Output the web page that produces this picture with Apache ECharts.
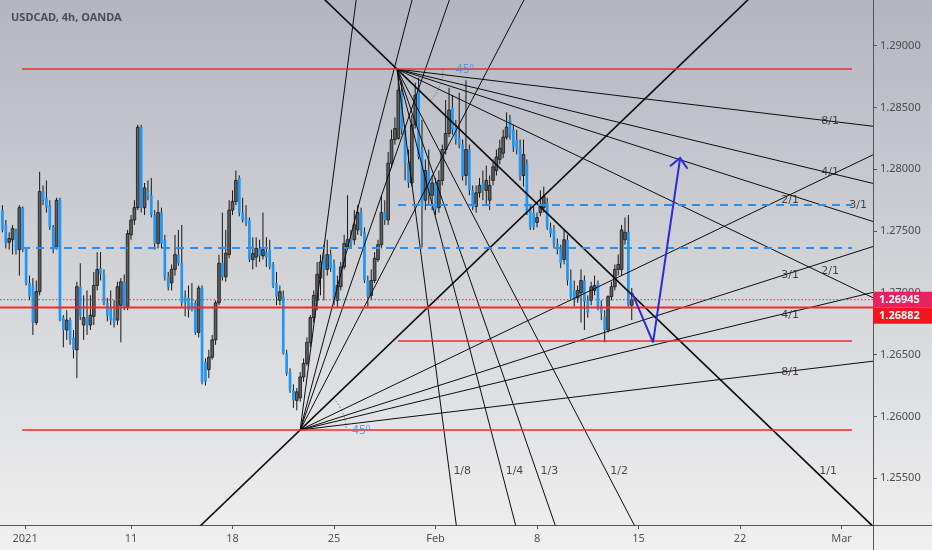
<!DOCTYPE html>
<html><head><meta charset="utf-8">
<script src="https://cdn.jsdelivr.net/npm/echarts@6/dist/echarts.min.js"></script>
<style>html,body{margin:0;padding:0;background:#eee}#c{width:932px;height:550px}</style>
</head><body><div id="c"></div>
<script>
// ---------- DATA ----------
const chartTitle = 'USDCAD, 4h, OANDA';
const firstBar = -8;            // bar index of first candle (4h bars, Mon Jan 4 00:00 = 0)
const candles = [ // [open, close, low, high]
[1.2767,1.2751,1.2749,1.2771],[1.2755,1.2740,1.2736,1.2759],[1.2741,1.2744,1.2735,1.2749],[1.2743,1.2752,1.2731,1.2755],
[1.2749,1.2735,1.2731,1.2752],[1.2735,1.2769,1.2714,1.2771],[1.2769,1.2735,1.2733,1.2770],[1.2735,1.2708,1.2706,1.2736],
[1.2708,1.2697,1.2694,1.2714],[1.2706,1.2676,1.2666,1.2712],[1.2676,1.2701,1.2674,1.2710],[1.2701,1.2782,1.2698,1.2798],
[1.2782,1.2775,1.2771,1.2787],[1.2777,1.2769,1.2765,1.2791],[1.2771,1.2753,1.2751,1.2775],[1.2753,1.2735,1.2732,1.2755],
[1.2737,1.2775,1.2735,1.2777],[1.2775,1.2678,1.2677,1.2777],[1.2680,1.2670,1.2656,1.2682],[1.2670,1.2678,1.2662,1.2686],
[1.2678,1.2662,1.2658,1.2680],[1.2664,1.2654,1.2647,1.2670],[1.2654,1.2705,1.2631,1.2709],[1.2705,1.2681,1.2678,1.2724],
[1.2674,1.2680,1.2662,1.2698],[1.2680,1.2674,1.2666,1.2702],[1.2674,1.2682,1.2670,1.2698],[1.2681,1.2706,1.2674,1.2717],
[1.2706,1.2719,1.2702,1.2733],[1.2720,1.2715,1.2710,1.2733],[1.2715,1.2692,1.2690,1.2719],[1.2692,1.2681,1.2677,1.2696],
[1.2688,1.2678,1.2674,1.2702],[1.2680,1.2676,1.2672,1.2694],[1.2678,1.2705,1.2674,1.2709],[1.2690,1.2709,1.2660,1.2712],
[1.2709,1.2689,1.2686,1.2715],[1.2689,1.2748,1.2686,1.2751],[1.2747,1.2759,1.2743,1.2763],[1.2759,1.2769,1.2755,1.2775],
[1.2769,1.2834,1.2767,1.2836],[1.2834,1.2769,1.2765,1.2836],[1.2769,1.2785,1.2763,1.2789],[1.2783,1.2778,1.2775,1.2791],
[1.2779,1.2763,1.2761,1.2793],[1.2763,1.2740,1.2735,1.2767],[1.2740,1.2765,1.2736,1.2775],[1.2765,1.2740,1.2736,1.2769],
[1.2743,1.2713,1.2710,1.2747],[1.2713,1.2705,1.2702,1.2717],[1.2708,1.2719,1.2702,1.2723],[1.2719,1.2731,1.2714,1.2747],
[1.2731,1.2724,1.2722,1.2751],[1.2724,1.2692,1.2689,1.2755],[1.2697,1.2692,1.2681,1.2702],[1.2696,1.2686,1.2680,1.2706],
[1.2692,1.2686,1.2685,1.2708],[1.2692,1.2668,1.2666,1.2694],[1.2668,1.2704,1.2664,1.2706],[1.2704,1.2628,1.2626,1.2706],
[1.2644,1.2628,1.2625,1.2647],[1.2638,1.2648,1.2631,1.2654],[1.2648,1.2662,1.2646,1.2666],[1.2662,1.2692,1.2658,1.2694],
[1.2692,1.2724,1.2690,1.2731],[1.2724,1.2713,1.2710,1.2765],[1.2713,1.2732,1.2709,1.2751],[1.2731,1.2767,1.2728,1.2775],
[1.2767,1.2774,1.2763,1.2783],[1.2774,1.2791,1.2771,1.2799],[1.2793,1.2765,1.2762,1.2795],[1.2765,1.2759,1.2757,1.2777],
[1.2761,1.2757,1.2754,1.2771],[1.2759,1.2727,1.2725,1.2761],[1.2727,1.2732,1.2719,1.2745],[1.2729,1.2736,1.2721,1.2745],
[1.2736,1.2730,1.2725,1.2743],[1.2730,1.2735,1.2727,1.2765],[1.2733,1.2729,1.2721,1.2745],[1.2735,1.2721,1.2719,1.2743],
[1.2723,1.2706,1.2704,1.2725],[1.2708,1.2697,1.2690,1.2717],[1.2694,1.2701,1.2690,1.2706],[1.2697,1.2651,1.2650,1.2702],
[1.2651,1.2635,1.2633,1.2654],[1.2636,1.2621,1.2619,1.2639],[1.2621,1.2613,1.2607,1.2626],[1.2613,1.2620,1.2605,1.2623],
[1.2615,1.2632,1.2612,1.2636],[1.2632,1.2643,1.2628,1.2647],[1.2643,1.2660,1.2641,1.2664],[1.2660,1.2680,1.2656,1.2682],
[1.2680,1.2698,1.2676,1.2702],[1.2694,1.2715,1.2686,1.2725],[1.2712,1.2725,1.2698,1.2731],[1.2728,1.2719,1.2694,1.2739],
[1.2719,1.2731,1.2714,1.2743],[1.2731,1.2720,1.2717,1.2735],[1.2723,1.2694,1.2690,1.2727],[1.2694,1.2706,1.2688,1.2714],
[1.2705,1.2721,1.2702,1.2725],[1.2721,1.2740,1.2719,1.2747],[1.2737,1.2743,1.2735,1.2779],[1.2744,1.2740,1.2736,1.2751],
[1.2743,1.2755,1.2739,1.2767],[1.2751,1.2765,1.2747,1.2771],[1.2765,1.2749,1.2746,1.2769],[1.2749,1.2710,1.2708,1.2753],
[1.2710,1.2697,1.2689,1.2714],[1.2698,1.2710,1.2694,1.2719],[1.2710,1.2728,1.2708,1.2733],[1.2727,1.2739,1.2725,1.2743],
[1.2739,1.2765,1.2736,1.2779],[1.2765,1.2759,1.2755,1.2775],[1.2759,1.2805,1.2755,1.2814],[1.2805,1.2824,1.2801,1.2832],
[1.2824,1.2833,1.2820,1.2842],[1.2825,1.2864,1.2824,1.2881],[1.2863,1.2832,1.2828,1.2872],[1.2832,1.2805,1.2791,1.2836],
[1.2805,1.2789,1.2785,1.2816],[1.2789,1.2836,1.2786,1.2844],[1.2836,1.2860,1.2833,1.2870],[1.2866,1.2810,1.2808,1.2874],
[1.2816,1.2770,1.2737,1.2840],[1.2775,1.2799,1.2767,1.2808],[1.2799,1.2779,1.2771,1.2816],[1.2779,1.2789,1.2767,1.2795],
[1.2789,1.2767,1.2763,1.2793],[1.2769,1.2791,1.2765,1.2799],[1.2791,1.2816,1.2787,1.2820],[1.2816,1.2829,1.2812,1.2856],
[1.2829,1.2848,1.2826,1.2866],[1.2850,1.2832,1.2828,1.2860],[1.2834,1.2824,1.2820,1.2840],[1.2825,1.2820,1.2817,1.2862],
[1.2820,1.2794,1.2791,1.2824],[1.2795,1.2816,1.2787,1.2872],[1.2816,1.2783,1.2779,1.2820],[1.2783,1.2770,1.2767,1.2787],
[1.2770,1.2781,1.2765,1.2787],[1.2781,1.2787,1.2777,1.2793],[1.2789,1.2783,1.2775,1.2799],[1.2783,1.2791,1.2771,1.2803],
[1.2775,1.2787,1.2767,1.2795],[1.2791,1.2802,1.2787,1.2808],[1.2799,1.2810,1.2795,1.2816],[1.2808,1.2817,1.2804,1.2824],
[1.2813,1.2826,1.2809,1.2832],[1.2826,1.2834,1.2824,1.2846],[1.2840,1.2828,1.2824,1.2844],[1.2832,1.2818,1.2814,1.2836],
[1.2824,1.2816,1.2812,1.2832],[1.2818,1.2794,1.2791,1.2824],[1.2795,1.2812,1.2786,1.2824],[1.2805,1.2765,1.2763,1.2808],
[1.2767,1.2753,1.2751,1.2771],[1.2765,1.2753,1.2751,1.2771],[1.2757,1.2761,1.2753,1.2765],[1.2765,1.2771,1.2762,1.2783],
[1.2769,1.2778,1.2765,1.2786],[1.2773,1.2753,1.2751,1.2777],[1.2753,1.2748,1.2745,1.2757],[1.2751,1.2740,1.2736,1.2755],
[1.2740,1.2735,1.2731,1.2744],[1.2735,1.2724,1.2720,1.2739],[1.2727,1.2743,1.2723,1.2751],[1.2743,1.2710,1.2706,1.2747],
[1.2710,1.2697,1.2694,1.2719],[1.2702,1.2694,1.2689,1.2710],[1.2696,1.2702,1.2692,1.2706],[1.2700,1.2710,1.2676,1.2719],
[1.2710,1.2693,1.2670,1.2714],[1.2694,1.2684,1.2680,1.2698],[1.2694,1.2705,1.2690,1.2709],[1.2702,1.2706,1.2698,1.2714],
[1.2708,1.2689,1.2686,1.2710],[1.2689,1.2684,1.2678,1.2694],[1.2681,1.2670,1.2660,1.2686],[1.2670,1.2697,1.2668,1.2698],
[1.2697,1.2705,1.2694,1.2709],[1.2705,1.2719,1.2702,1.2723],[1.2719,1.2723,1.2714,1.2731],[1.2719,1.2751,1.2714,1.2755],
[1.2743,1.2749,1.2739,1.2761],[1.2749,1.2690,1.2689,1.2763],[1.2690,1.26945,1.2678,1.2704]
];
const timeTickBars   = [-1.3, 30, 60, 90, 120, 150, 180, 210, 240];
const timeTickLabels = ['2021','11','18','25','Feb','8','15','22','Mar'];
const priceTicks = [1.255, 1.26, 1.265, 1.27, 1.275, 1.28, 1.285, 1.29];
const barRange   = [-8.72, 249.3];
const priceRange = [1.25122, 1.2937];
const lastPrice  = 1.26945;
const levelPrice = 1.26882;
// horizontal drawings: [startBar, endBar, price]
const redLines  = [[-2.2, 243.1, 1.28811], [-2.2, 243.1, 1.25891], [108.9, 243.1, 1.26611]];
const blueDashed = [[-2.2, 243.1, 1.27363], [108.9, 243.1, 1.27711]];
// Gann fans
const fanHigh = {bar: 108.6, price: 1.28811};
const fanLow  = {bar: 80.0,  price: 1.25891};
const unitSlope = 0.000263;     // price per bar on the 1/1 line
const fanNames = ['8/1','4/1','3/1','2/1','1/1','1/2','1/3','1/4','1/8'];
const fanMults = [1/8, 1/4, 1/3, 1/2, 1, 2, 3, 4, 8];
// projected path (blue arrow)
const arrowBars   = [178.1, 184.3, 192.3];
const arrowPrices = [1.2700, 1.2660, 1.28091];

// ---------- CHART ----------
const chart = echarts.init(document.getElementById('c'), null, {renderer: 'canvas'});
const [xMin, xMax] = barRange;
const candleData = candles.map((r, i) => [firstBar + i, r[0], r[1], r[2], r[3]]);

function fanSeg(anchor, dir, m, back) {
  const k = dir * m * unitSlope;
  const s = back ? xMin : anchor.bar;
  return [[s, anchor.price + k * (s - anchor.bar)], [xMax, anchor.price + k * (xMax - anchor.bar)]];
}
const lineSeries = [];
function addLine(data, color, width, type, z) {
  lineSeries.push({type: 'line', data, showSymbol: false, symbol: 'none', silent: true, animation: false,
    clip: true, z: z || 4, lineStyle: {color, width, type: type || 'solid'}});
}
fanMults.forEach((m, i) => {
  addLine(fanSeg(fanHigh, -1, m, m === 1), '#0d0d0d', m === 1 ? 1.6 : 1);
  addLine(fanSeg(fanLow, 1, m, m === 1), '#0d0d0d', m === 1 ? 1.6 : 1);
});
redLines.forEach(r => addLine([[r[0], r[2]], [r[1], r[2]]], '#ee2b2b', 1.5, 'solid', 5));
blueDashed.forEach(r => addLine([[r[0], r[2]], [r[1], r[2]]], '#2b8ff0', 2, [8, 6], 5));
addLine([[xMin, levelPrice], [xMax, levelPrice]], '#f22a2a', 1.8, 'solid', 5);
addLine([[xMin, lastPrice], [xMax, lastPrice]], '#e3245f', 1, [1.5, 2], 5);
addLine(arrowBars.map((b, i) => [b, arrowPrices[i]]), '#2b2bd8', 2, 'solid', 7);

// fan labels (placed on the lines)
const labelItems = [];
const steepLevel = 1.2556;
const highFlat = {'8/1': [236.6, 0], '4/1': [236.6, -1], '3/1': [244.9, -12], '2/1': [236.6, -6]};
const lowFlat  = {'2/1': [224.8, 6], '3/1': [224.8, 2], '4/1': [224.8, 3], '8/1': [224.8, 1]};
fanNames.forEach((n, i) => {
  const m = fanMults[i];
  if (highFlat[n]) {
    const b = highFlat[n][0];
    labelItems.push({value: [b, fanHigh.price - m * unitSlope * (b - fanHigh.bar)], name: n, label: {offset: [0, highFlat[n][1]]}});
  } else {
    const b = fanHigh.bar + (fanHigh.price - steepLevel) / (m * unitSlope);
    labelItems.push({value: [b, steepLevel], name: n, label: {offset: [13, 0]}});
  }
  if (lowFlat[n]) {
    const b = lowFlat[n][0];
    labelItems.push({value: [b, fanLow.price + m * unitSlope * (b - fanLow.bar)], name: n, label: {offset: [0, lowFlat[n][1]]}});
  }
});
const degItems = [
  {value: [fanHigh.bar, fanHigh.price], name: '45º', label: {offset: [68, 0]}},
  {value: [fanLow.bar, fanLow.price], name: '45º', label: {offset: [61, 1]}}
];

const tickMap = {};
timeTickBars.forEach((b, i) => tickMap[b] = timeTickLabels[i]);
const fontFam = 'Noto Sans, Roboto, sans-serif';

chart.setOption({
  animation: false,
  backgroundColor: new echarts.graphic.LinearGradient(0, 0, 0, 1, [
    {offset: 0, color: '#b3b6c0'}, {offset: 0.5, color: '#d2d4d8'}, {offset: 1, color: '#f0f0f0'}
  ]),
  title: {text: chartTitle, left: 6, top: 7, textStyle: {fontSize: 11, fontWeight: 'bold', color: '#4b4e57', fontFamily: fontFam}},
  grid: {left: 0, right: 59, top: 0, bottom: 25, containLabel: false, outerBoundsMode: 'none'},
  xAxis: {
    type: 'value', min: xMin, max: xMax,
    axisLine: {show: true, onZero: false, lineStyle: {color: '#555', width: 1}},
    axisTick: {show: true, length: 4, lineStyle: {color: '#555'}, customValues: timeTickBars},
    axisLabel: {customValues: timeTickBars, margin: 8, color: '#555', fontSize: 11, fontFamily: fontFam,
      formatter: v => tickMap[v] !== undefined ? tickMap[v] : ''},
    splitLine: {show: false}
  },
  yAxis: {
    type: 'value', position: 'right', min: priceRange[0], max: priceRange[1], scale: true,
    axisLine: {show: true, onZero: false, lineStyle: {color: '#555', width: 1}},
    axisTick: {show: true, length: 4, lineStyle: {color: '#555'}, customValues: priceTicks},
    axisLabel: {customValues: priceTicks, margin: 7, color: '#4d4d4d', fontSize: 11, fontFamily: fontFam,
      formatter: v => v.toFixed(5)},
    splitLine: {show: false}
  },
  graphic: [
    {type: 'line', shape: {x1: 873, y1: 525.5, x2: 932, y2: 525.5}, style: {stroke: '#555', lineWidth: 1}, silent: true},
    {type: 'line', shape: {x1: 873.5, y1: 525, x2: 873.5, y2: 550}, style: {stroke: '#555', lineWidth: 1}, silent: true}
  ],
  series: [
    {
      type: 'custom', data: candleData, z: 2, clip: true, silent: true,
      encode: {x: 0, y: [1, 2, 3, 4]},
      renderItem(params, api) {
        const x = api.value(0), o = api.value(1), c = api.value(2), l = api.value(3), h = api.value(4);
        const pO = api.coord([x, o]), pC = api.coord([x, c]), pL = api.coord([x, l]), pH = api.coord([x, h]);
        const w = api.size([1, 0])[0] * 0.8;
        const up = c >= o;
        const top = Math.min(pO[1], pC[1]), bot = Math.max(pO[1], pC[1]);
        const xc = pO[0];
        return {type: 'group', children: [
          {type: 'line', shape: {x1: xc, y1: pH[1], x2: xc, y2: pL[1]}, style: {stroke: '#161616', lineWidth: 1}},
          {type: 'rect', shape: {x: xc - w / 2, y: top, width: w, height: Math.max(bot - top, 1)},
            style: up ? {fill: '#5e5e5e', stroke: '#151515', lineWidth: 0.8} : {fill: '#2196f3'}}
        ]};
      }
    },
    ...lineSeries,
    { // 45° arcs
      type: 'custom', z: 4, silent: true, clip: true,
      data: [[fanHigh.bar, fanHigh.price, -1], [fanLow.bar, fanLow.price, 1]],
      renderItem(params, api) {
        const b = api.value(0), p = api.value(1), d = api.value(2);
        const c0 = api.coord([b, p]), c1 = api.coord([b + 10, p + d * unitSlope * 10]);
        const ang = Math.atan2(c1[1] - c0[1], c1[0] - c0[0]);
        return {type: 'arc', shape: {cx: c0[0], cy: c0[1], r: 46, startAngle: Math.min(0, ang), endAngle: Math.max(0, ang), clockwise: true},
          style: {stroke: '#707070', fill: null, lineWidth: 1, lineDash: [1.5, 2]}};
      }
    },
    { // arrow head
      type: 'custom', z: 7, silent: true, clip: false,
      data: [[arrowBars[arrowBars.length - 1], arrowPrices[arrowPrices.length - 1]]],
      renderItem(params, api) {
        const n = arrowBars.length;
        const a = api.coord([arrowBars[n - 2], arrowPrices[n - 2]]);
        const t = api.coord([arrowBars[n - 1], arrowPrices[n - 1]]);
        const ang = Math.atan2(a[1] - t[1], a[0] - t[0]);
        const L = 13, sp = 0.75;
        return {type: 'polyline', shape: {points: [
          [t[0] + L * Math.cos(ang + sp), t[1] + L * Math.sin(ang + sp)], t,
          [t[0] + L * Math.cos(ang - sp), t[1] + L * Math.sin(ang - sp)]]},
          style: {stroke: '#2b2bd8', lineWidth: 2, fill: null}};
      }
    },
    { // fan labels
      type: 'scatter', data: labelItems, z: 8, silent: true, symbolSize: 2,
      itemStyle: {color: 'rgba(0,0,0,0)'},
      label: {show: true, position: 'inside', formatter: p => p.name, color: '#1e1e1e', fontSize: 11, fontFamily: 'DejaVu Sans, sans-serif'}
    },
    { // 45º labels
      type: 'scatter', data: degItems, z: 8, silent: true, symbolSize: 2,
      itemStyle: {color: 'rgba(0,0,0,0)'},
      label: {show: true, position: 'inside', formatter: p => p.name, color: '#3d8ee6', fontSize: 12, fontFamily: fontFam}
    },
    { // price boxes on the axis
      type: 'custom', z: 20, silent: true, clip: false,
      data: [[xMax, lastPrice, levelPrice]],
      renderItem(params, api) {
        const cs = params.coordSys;
        const x0 = cs.x + cs.width;
        const y1 = api.coord([xMax, api.value(1)])[1];
        const y2 = api.coord([xMax, api.value(2)])[1];
        const h = 16;
        const t1 = y1 - h / 2;
        const t2 = Math.max(y2 - h / 2, t1 + h);
        const font = 'bold 11px Noto Sans, Roboto, sans-serif';
        return {type: 'group', children: [
          {type: 'rect', shape: {x: x0, y: t1, width: 59, height: h}, style: {fill: '#e8225f'}},
          {type: 'text', style: {text: api.value(1).toFixed(5), x: x0 + 6, y: t1 + h / 2, fill: '#fff', font, align: 'left', verticalAlign: 'middle'}},
          {type: 'rect', shape: {x: x0, y: t2, width: 59, height: h}, style: {fill: '#f5141e'}},
          {type: 'text', style: {text: api.value(2).toFixed(5), x: x0 + 6, y: t2 + h / 2, fill: '#fff', font, align: 'left', verticalAlign: 'middle'}}
        ]};
      }
    }
  ]
});
</script>
</body></html>
